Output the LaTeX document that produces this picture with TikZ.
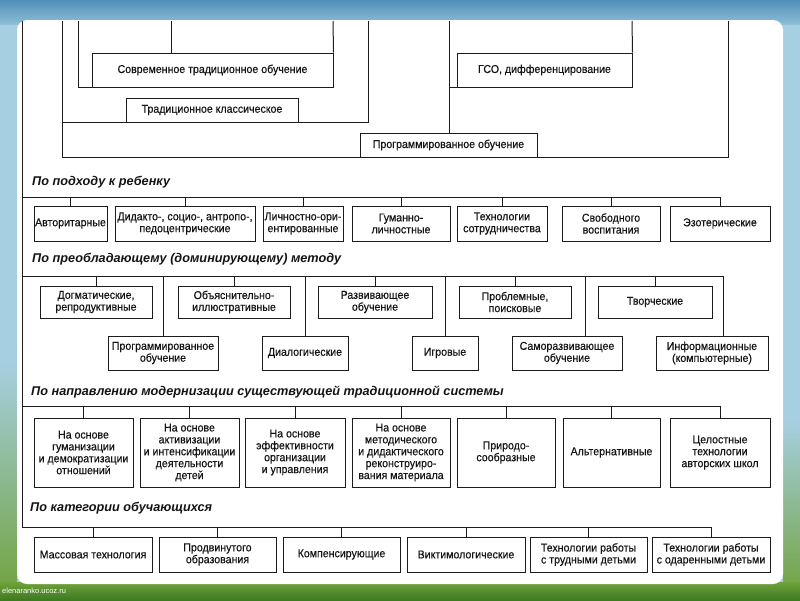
\documentclass[tikz,border=0pt]{standalone}
\usepackage{fontspec}
\setmainfont{Liberation Sans}
\newfontfamily\boxfam[FakeStretch=0.93,FakeBold=0.35]{Liberation Sans}
\definecolor{linec}{HTML}{1C1C1C}
\definecolor{txtc}{HTML}{141414}
\definecolor{skyA}{HTML}{4F8FB8}
\definecolor{skyB}{HTML}{8DBDD8}
\definecolor{sideB}{HTML}{A7CFE2}
\definecolor{grassA}{HTML}{6FA23A}
\definecolor{grassB}{HTML}{3E7A22}
\newcommand\boxfont{\boxfam\fontsize{11.4}{11.9}\selectfont}
\newcommand\headfont{\fontsize{12.7}{14}\selectfont\bfseries\itshape}
\tikzset{
  ln/.style={draw=linec, line width=1pt},
  box/.style={draw=linec, line width=1pt, fill=white, inner sep=1pt,
              align=center, font=\boxfont, text=txtc},
  head/.style={anchor=west, font=\headfont, text=txtc, inner sep=0pt},
}
\begin{document}
\begin{tikzpicture}[x=1pt, y=-1pt]
\useasboundingbox (0,0) rectangle (800,600);
% ---------- slide background ----------
\fill[sideB] (0,0) rectangle (800,600);
\shade[top color=skyA, bottom color=skyB] (0,0) rectangle (800,24);
\shade[top color=sideB, bottom color=grassA] (0,360) rectangle (17,600);
\shade[top color=sideB, bottom color=grassA] (783,420) rectangle (800,600);
\shade[top color=grassA, bottom color=grassB] (0,582) rectangle (800,600);
\fill[white, rounded corners=10pt] (17,20) rectangle (783,584);
\node[anchor=west, font=\fontsize{7.5}{8}\selectfont, text=white, inner sep=0pt] (wm) at (2,591) {elenaranko.ucoz.ru};

% ---------- top section ----------
\node[box, minimum width=241, minimum height=34] (sto) at (212.5,70) {Современное традиционное обучение};
\node[box, minimum width=172, minimum height=24] (tk)  at (212,110) {Традиционное классическое};
\node[box, minimum width=175, minimum height=34] (gso) at (544.5,70) {ГСО, дифференцирование};
\node[box, minimum width=177, minimum height=24] (po)  at (448.5,145) {Программированное обучение};

\coordinate (t78) at (78,21);   \coordinate (t171) at (171,21);
\coordinate (t333) at (333,21); \coordinate (t62) at (62,21);
\coordinate (t368) at (368,21); \coordinate (t449) at (449,21);
\coordinate (t632) at (632,21); \coordinate (t728) at (728,21);
\coordinate (t22) at (22,21);

\draw[ln] (t78) |- (sto.south west);
\draw[ln] (sto.north east) -- (t333);
\draw[ln] (t171) -- (t171 |- sto.north);
\draw[ln] (t62) |- (tk.south west);
\draw[ln] (tk.south east) -| (t368);
\draw[ln] (t62) |- (po.south west);
\draw[ln] (po.south east) -| (t728);
\draw[ln] (t449) -- (t449 |- po.north);
\draw[ln] (t449 |- gso.south) -- (gso.south west);
\draw[ln] (gso.north east) -- (t632);

% ---------- section 1 ----------
\node[head] (h1) at (32,182) {По подходу к ребенку};
\coordinate (bus1) at (22,197);
\node[box, minimum width=73,  minimum height=35] (a1) at (70.5,223.5) {Авторитарные};
\node[box, minimum width=140, minimum height=35] (a2) at (185,223.5) {Дидакто-, социо-, антропо-,\\педоцентрические};
\node[box, minimum width=80,  minimum height=35] (a3) at (303,223.5) {Личностно-ори-\\ентированные};
\node[box, minimum width=98,  minimum height=35] (a4) at (401,223.5) {Гуманно-\\личностные};
\node[box, minimum width=90,  minimum height=35] (a5) at (502,223.5) {Технологии\\сотрудничества};
\node[box, minimum width=98,  minimum height=35] (a6) at (611,223.5) {Свободного\\воспитания};
\node[box, minimum width=100, minimum height=35] (a7) at (720,223.5) {Эзотерические};
\draw[ln] (t22) -- (bus1) -| (a7.north);
\foreach \n in {a1,a2,a3,a4,a5,a6} \draw[ln] (\n.north) -- (\n.north |- bus1);

% ---------- section 2 ----------
\node[head] (h2) at (32,259) {По преобладающему (доминирующему) методу};
\coordinate (bus2) at (22,276);
\node[box, minimum width=112, minimum height=32] (b1) at (96,302) {Догматические,\\репродуктивные};
\node[box, minimum width=112, minimum height=32] (b2) at (234,302) {Объяснительно-\\иллюстративные};
\node[box, minimum width=114, minimum height=32] (b3) at (375,302) {Развивающее\\обучение};
\node[box, minimum width=112, minimum height=32] (b4) at (515,302) {Проблемные,\\поисковые};
\node[box, minimum width=114, minimum height=32] (b5) at (655,302) {Творческие};
\node[box, minimum width=110, minimum height=34] (c1) at (163,353) {Программированное\\обучение};
\node[box, minimum width=86,  minimum height=34] (c2) at (305,353) {Диалогические};
\node[box, minimum width=66,  minimum height=34] (c3) at (445,353) {Игровые};
\node[box, minimum width=110, minimum height=34] (c4) at (567,353) {Саморазвивающее\\обучение};
\node[box, minimum width=112, minimum height=34] (c5) at (712,353) {Информационные\\(компьютерные)};
\draw[ln] (bus1) -- (bus2) -| ([xshift=11pt]c5.north);
\foreach \n in {b1,b2,b3,b4,b5,c1,c2,c3} \draw[ln] (\n.north) -- (\n.north |- bus2);
\draw[ln] ([xshift=18pt]c4.north) -- ([xshift=18pt]c4.north |- bus2);

% ---------- section 3 ----------
\node[head] (h3) at (31,392) {По направлению модернизации существующей традиционной системы};
\coordinate (bus3) at (22,406);
\node[box, minimum width=99,  minimum height=69] (d1) at (83.5,452.5) {На основе\\гуманизации\\и демократизации\\отношений};
\node[box, minimum width=99,  minimum height=69] (d2) at (189.5,452.5) {На основе\\активизации\\и интенсификации\\деятельности\\детей};
\node[box, minimum width=100, minimum height=69] (d3) at (295,452.5) {На основе\\эффективности\\организации\\и управления};
\node[box, minimum width=98,  minimum height=69] (d4) at (401,452.5) {На основе\\методического\\и дидактического\\реконструиро-\\вания материала};
\node[box, minimum width=98,  minimum height=69] (d5) at (506,452.5) {Природо-\\сообразные};
\node[box, minimum width=97,  minimum height=69] (d6) at (611.5,452.5) {Альтернативные};
\node[box, minimum width=100, minimum height=69] (d7) at (720,452.5) {Целостные\\технологии\\авторских школ};
\draw[ln] (bus2) -- (bus3) -| (d7.north);
\foreach \n in {d1,d2,d3,d4,d5,d6} \draw[ln] (\n.north) -- (\n.north |- bus3);

% ---------- section 4 ----------
\node[head] (h4) at (30,508) {По категории обучающихся};
\coordinate (bus4) at (22,527);
\node[box, minimum width=118, minimum height=35] (e1) at (93,554.5) {Массовая технология};
\node[box, minimum width=117, minimum height=35] (e2) at (217.5,554.5) {Продвинутого\\образования};
\node[box, minimum width=117, minimum height=35] (e3) at (341.5,554.5) {Компенсирующие};
\node[box, minimum width=118, minimum height=35] (e4) at (466,554.5) {Виктимологические};
\node[box, minimum width=117, minimum height=35] (e5) at (588.5,554.5) {Технологии работы\\с трудными детьми};
\node[box, minimum width=118, minimum height=35] (e6) at (711,554.5) {Технологии работы\\с одаренными детьми};
\draw[ln] (bus3) -- (bus4) -| (e6.north);
\foreach \n in {e1,e2,e3,e4,e5} \draw[ln] (\n.north) -- (\n.north |- bus4);
\end{tikzpicture}
\end{document}
